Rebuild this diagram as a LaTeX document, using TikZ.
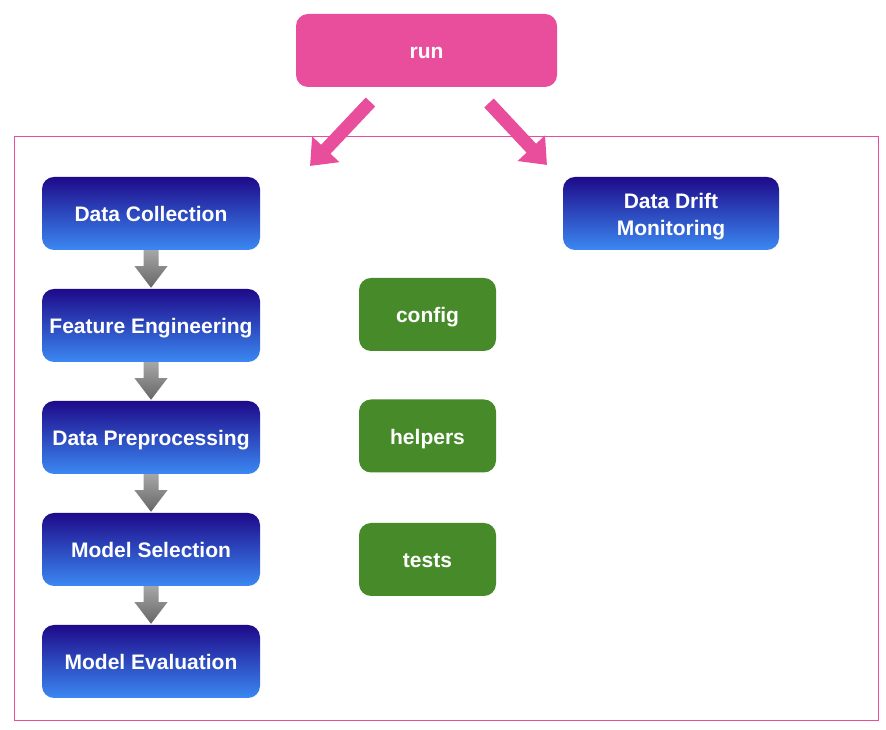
\documentclass[tikz,border=0pt]{standalone}
\usepackage{fontspec}
\setmainfont{Liberation Sans}
\usetikzlibrary{arrows.meta,calc}
\definecolor{runpink}{HTML}{E94E9C}
\definecolor{navytop}{HTML}{1E0A8A}
\definecolor{bluebot}{HTML}{3B88F2}
\definecolor{leaf}{HTML}{468A29}
\tikzset{
  txt/.style={text=white,font=\fontsize{21}{24}\selectfont\bfseries,align=center,inner sep=0pt},
  oneline/.style={text height=17pt,text depth=0pt},
  runbox/.style={txt,oneline,rounded corners=12pt,fill=runpink,minimum width=261pt,minimum height=73pt},
  bluebox/.style={txt,rounded corners=12pt,top color=navytop,bottom color=bluebot,minimum width=218pt,minimum height=73pt},
  greenbox/.style={txt,oneline,rounded corners=12pt,fill=leaf,minimum width=137pt,minimum height=73pt},
  frame/.style={draw=runpink,line width=0.9pt},
  pinkarrow/.style={draw=runpink,line width=13pt,-{Triangle[length=23pt,width=36pt]}},
  grayarrow/.style={top color=gray!70,bottom color=black!60,draw=none}
}
\newcommand{\flowarrow}[2]{%
  \shade[grayarrow] ([xshift=-7.5pt]#1.south) -- ([xshift=-7.5pt,yshift=-16pt]#1.south)
    -- ([xshift=-16.5pt,yshift=-16pt]#1.south) -- ([yshift=1pt]#2.north)
    -- ([xshift=16.5pt,yshift=-16pt]#1.south) -- ([xshift=7.5pt,yshift=-16pt]#1.south)
    -- ([xshift=7.5pt]#1.south) -- cycle;}
\begin{document}
\begin{tikzpicture}[x=1pt,y=1pt]
\useasboundingbox (0,0) rectangle (886,730);
\fill[white] (0,0) rectangle (886,730);
\draw[frame] (14,594) rectangle (878,10);
\node[runbox] (run) at (426.5,679.5) {run};
\coordinate (lt) at (310,564);
\coordinate (rt) at (547,565);
\draw[pinkarrow] (370.5,628) -- (lt);
\draw[pinkarrow] (489,627) -- (rt);
\node[bluebox,oneline] (dc) at (151,516.5) {Data Collection};
\node[bluebox,oneline] (fe) at (151,404.5) {Feature Engineering};
\node[bluebox,oneline] (dp) at (151,292.5) {Data Preprocessing};
\node[bluebox,oneline] (ms) at (151,180.5) {Model Selection};
\node[bluebox,oneline] (me) at (151,68.5) {Model Evaluation};
\node[bluebox,minimum width=216pt,text height=47pt,text depth=3pt] (ddm) at (671,516.5) {Data Drift\\[3pt]Monitoring};
\node[greenbox] (cfg) at (427.5,415.5) {config};
\node[greenbox] (hlp) at (427.5,294) {helpers};
\node[greenbox] (tst) at (427.5,170.5) {tests};
\flowarrow{dc}{fe}
\flowarrow{fe}{dp}
\flowarrow{dp}{ms}
\flowarrow{ms}{me}
\end{tikzpicture}
\end{document}
